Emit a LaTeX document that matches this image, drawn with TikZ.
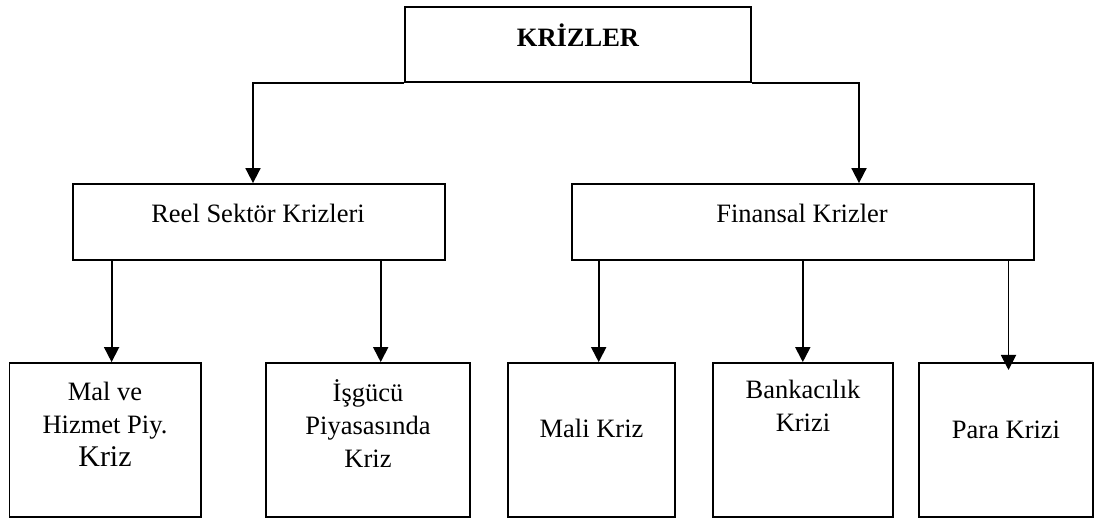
\documentclass[tikz,border=0pt]{standalone}
\usepackage{fontspec}
\setmainfont{Liberation Serif}
\usetikzlibrary{arrows.meta}
\tikzset{
  box/.style={draw, line width=1.8pt, rectangle, inner sep=0pt},
  lbl/.style={inner sep=0pt, align=center, font=\fontsize{26.5}{33}\selectfont},
  arr/.style={draw, line width=1.8pt, -{Triangle[length=15pt,width=15pt]}}
}
\begin{document}
\begin{tikzpicture}[x=1pt,y=-1pt]
\useasboundingbox (0,0) rectangle (1095,518);
% boxes
\node[box, minimum width=346pt, minimum height=75pt] (top) at (578,44.5) {};
\node[box, minimum width=372pt, minimum height=76pt] (reel) at (259,222) {};
\node[box, minimum width=462pt, minimum height=76pt] (fin) at (803,222) {};
\node[box, minimum width=191.5pt, minimum height=154pt] (b1) at (105.25,440) {};
\node[box, minimum width=204pt, minimum height=154pt] (b2) at (368,440) {};
\node[box, minimum width=167pt, minimum height=154pt] (b3) at (591.5,440) {};
\node[box, minimum width=180pt, minimum height=154pt] (b4) at (803,440) {};
\node[box, minimum width=174pt, minimum height=154pt] (b5) at (1006,440) {};
% texts
\node[lbl, font=\bfseries\fontsize{26.5}{33}\selectfont] (ttop) at (578,35) {KRİZLER};
\node[lbl] (treel) at (258,213) {Reel Sektör Krizleri};
\node[lbl] (tfin) at (802,213) {Finansal Krizler};
\node[lbl] (tb1) at (105,424) {Mal ve\\Hizmet Piy.\\{\fontsize{30}{33}\selectfont Kriz}};
\node[lbl] (tb2) at (368,424) {İşgücü\\Piyasasında\\Kriz};
\node[lbl] (tb3) at (591.5,428) {Mali Kriz};
\node[lbl] (tb4) at (803,406) {Bankacılık\\Krizi};
\node[lbl] (tb5) at (1006,430) {Para Krizi};
% connector x positions
\coordinate (ra) at (253,0);
\coordinate (fa) at (859,0);
\coordinate (a1) at (111.6,0);
\coordinate (a2) at (380.7,0);
\coordinate (a3) at (598.7,0);
\coordinate (a4) at (802.8,0);
\coordinate (a5) at (1008.5,0);
\coordinate (a5end) at (1008.5,370);
% connectors
\draw[arr] (top.south west) -| (reel.north -| ra);
\draw[arr] (top.south east) -| (fin.north -| fa);
\draw[arr] (reel.south -| a1) -- (b1.north -| a1);
\draw[arr] (reel.south -| a2) -- (b2.north -| a2);
\draw[arr] (fin.south -| a3) -- (b3.north -| a3);
\draw[arr] (fin.south -| a4) -- (b4.north -| a4);
\draw[arr] (fin.south -| a5) -- (a5end);
\end{tikzpicture}
\end{document}
